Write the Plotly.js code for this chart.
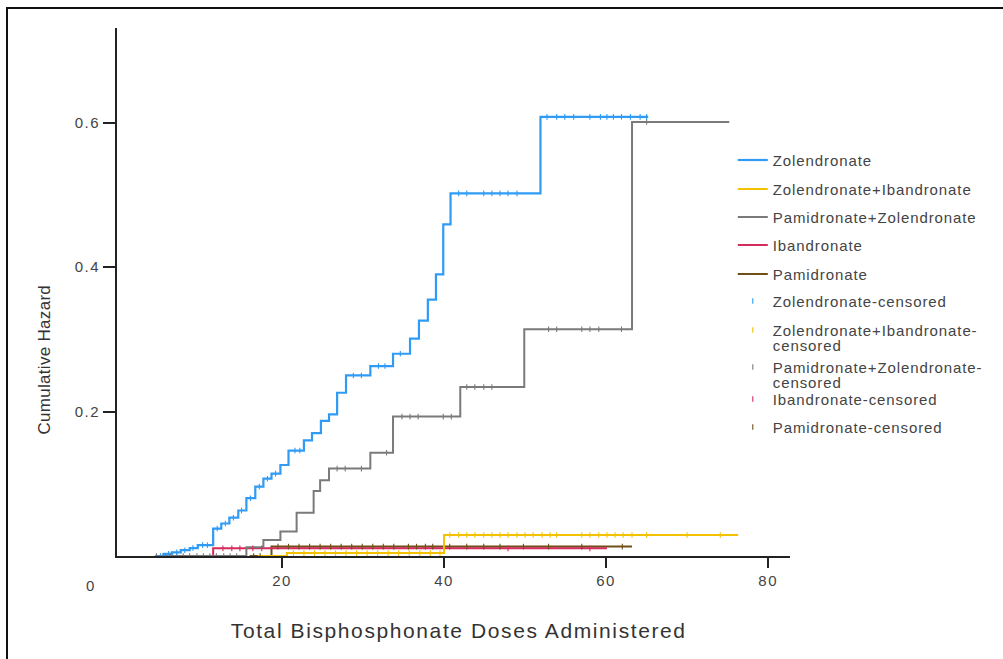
<!DOCTYPE html>
<html>
<head>
<meta charset="utf-8">
<script src="https://cdn.plot.ly/plotly-3.0.1.min.js"></script>
<style>
  html, body { margin: 0; padding: 0; background: #fff; }
  #wrap { position: relative; width: 1003px; height: 659px; overflow: hidden; }
  #frame { position: absolute; left: 6px; top: 7px; width: 1100px; height: 800px;
           border-left: 2px solid #111; border-top: 2px solid #111; pointer-events: none; z-index: 5; }
  #chart { position: absolute; left: 0; top: 0; width: 1003px; height: 659px; }
  #chart .legendtext { letter-spacing: 0.9px; }
  #chart .xtick text, #chart .ytick text { letter-spacing: 1.5px; }
  #chart .annotation-text.xt { letter-spacing: 1.6px; }
  #chart .annotation-text.yt { letter-spacing: 0.3px; }
</style>
</head>
<body>
<div id="wrap">
  <div id="chart"></div>
  <div id="frame"></div>
</div>
<script>
// ---- Data ----
const seriesNames = ["Zolendronate", "Zolendronate+Ibandronate", "Pamidronate+Zolendronate", "Ibandronate", "Pamidronate"];
const censoredNames = ["Zolendronate-censored", "Zolendronate+Ibandronate-<br>censored", "Pamidronate+Zolendronate-<br>censored", "Ibandronate-censored", "Pamidronate-censored"];

// Zolendronate step curve
const zolX = [4.3, 5.4, 6.4, 7.5, 8.6, 9.6, 11.5, 12.5, 13.5, 14.6, 15.6, 16.7, 17.7, 18.7, 19.8, 20.8, 22.7, 23.7, 24.8, 25.8, 26.8, 27.9, 30.9, 33.7, 35.8, 36.9, 38.0, 39.0, 39.9, 40.8, 51.9, 65.2];
const zolY = [0, 0.003, 0.005, 0.008, 0.011, 0.015, 0.038, 0.045, 0.053, 0.063, 0.080, 0.096, 0.107, 0.114, 0.126, 0.146, 0.160, 0.170, 0.187, 0.196, 0.226, 0.250, 0.263, 0.280, 0.301, 0.326, 0.355, 0.390, 0.459, 0.502, 0.608, 0.608];
const zolCensX = [5.0, 6.0, 7.0, 8.0, 9.0, 10.2, 10.8, 12.0, 13.0, 14.0, 15.0, 16.1, 17.2, 18.2, 19.2, 21.6, 22.2, 28.8, 29.8, 31.9, 32.7, 34.6, 41.8, 42.8, 44.9, 45.9, 46.9, 47.9, 49.0, 52.7, 53.9, 54.9, 56.0, 58.0, 59.3, 60.1, 60.9, 61.9, 63.0, 64.2, 65.0];

// Zolendronate+Ibandronate step curve
const zibX = [17.0, 20.6, 40.0, 76.3];
const zibY = [0, 0.004, 0.029, 0.029];
const zibCensX = [21.4, 22.7, 24.0, 25.3, 26.6, 27.9, 29.2, 30.5, 31.8, 33.1, 34.4, 35.7, 37.0, 38.3, 39.5, 40.7, 41.8, 42.8, 43.8, 44.9, 45.9, 46.9, 47.9, 49.0, 50.0, 51.0, 52.1, 53.1, 53.9, 57.0, 58.0, 59.1, 60.1, 61.1, 62.1, 63.2, 65.0, 70.0, 74.1];

// Pamidronate+Zolendronate step curve
const pzX = [4.5, 15.6, 17.7, 19.8, 21.8, 23.9, 24.7, 25.8, 30.9, 33.7, 42.0, 49.9, 63.2, 75.2];
const pzY = [0, 0.012, 0.022, 0.034, 0.060, 0.090, 0.105, 0.121, 0.143, 0.193, 0.234, 0.314, 0.601, 0.601];
const pzCensX = [4.5, 5.3, 6.2, 7.0, 7.8, 8.6, 9.5, 10.3, 11.1, 11.9, 12.8, 13.6, 14.4, 26.8, 27.8, 29.8, 32.9, 34.8, 35.8, 36.8, 39.9, 40.9, 42.8, 43.8, 44.9, 45.9, 52.9, 53.9, 57.0, 58.0, 59.1, 61.9, 65.0];

// Ibandronate step curve
const ibX = [9.0, 11.5, 60.1];
const ibY = [0, 0.0106, 0.0106];
const ibCensX = [12.7, 13.8, 14.8, 16.4, 17.5, 47.9, 58.0];

// Pamidronate step curve
const pamX = [16.0, 18.7, 63.2];
const pamY = [0, 0.013, 0.013];
const pamCensX = [16.5, 17.3, 19.5, 20.8, 22.1, 23.4, 24.7, 26.0, 27.3, 28.6, 29.9, 31.2, 32.5, 33.8, 35.6, 36.6, 37.7, 38.6, 40.7, 42.8, 44.9, 46.9, 49.8, 52.9, 57.0, 62.0];

// Axis ticks
const xTickVals = [20, 40, 60, 80];
const yTickVals = [0.2, 0.4, 0.6];

const colors = ["#2f9bf5", "#f2c200", "#7a7a7a", "#d42a5c", "#6e4f17"];

// ---- Build traces ----
function stepY(xs, ys, x) {
  let y = 0;
  for (let i = 0; i < xs.length; i++) { if (xs[i] <= x) y = ys[i]; }
  return y;
}
const curves = [[zolX, zolY, zolCensX], [zibX, zibY, zibCensX], [pzX, pzY, pzCensX], [ibX, ibY, ibCensX], [pamX, pamY, pamCensX]];
const drawOrder = [4, 3, 1, 2, 0];
const traces = [];
drawOrder.forEach(i => {
  const [xs, ys] = curves[i];
  traces.push({
    x: xs, y: ys, type: "scatter", mode: "lines", name: seriesNames[i],
    line: { shape: "hv", color: colors[i], width: i === 0 ? 2.2 : 2 },
    legendgroup: "c" + i, legendrank: i + 1, hoverinfo: "x+y"
  });
});
drawOrder.forEach(i => {
  const [xs, ys, cx] = curves[i];
  traces.push({
    x: cx, y: cx.map(v => stepY(xs, ys, v)), type: "scatter", mode: "markers", name: censoredNames[i],
    marker: { symbol: "line-ns", size: 4, color: colors[i], line: { color: colors[i], width: 1.1 } },
    legendgroup: "s" + i, legendrank: i + 6, hoverinfo: "x+y"
  });
});

// first-line centres of the legend entries in the reference (page px)
const legendRowY = [160, 189, 217, 245, 274, 301, 330, 367, 399, 427];

const layout = {
  width: 1003, height: 659,
  margin: { l: 117, r: 213, t: 28, b: 103 },
  paper_bgcolor: "#ffffff", plot_bgcolor: "#ffffff",
  font: { family: "Liberation Sans, Arial, sans-serif", color: "#444", size: 15 },
  showlegend: true,
  legend: {
    x: 0.915, y: 0.782, xanchor: "left", yanchor: "top",
    traceorder: "grouped", tracegroupgap: 5, itemwidth: 30,
    font: { size: 15, color: "#444" }, bgcolor: "rgba(0,0,0,0)"
  },
  xaxis: {
    range: [-0.37, 82.7], showgrid: false, zeroline: false,
    showline: true, linecolor: "#222", linewidth: 2,
    ticks: "outside", ticklen: 10, tickwidth: 2, tickcolor: "#222",
    tickvals: xTickVals, ticktext: xTickVals.map(String),
    tickfont: { size: 15, color: "#444" }
  },
  yaxis: {
    range: [0, 0.731], showgrid: false, zeroline: false,
    showline: true, linecolor: "#222", linewidth: 2,
    ticks: "outside", ticklen: 12, tickwidth: 2, tickcolor: "#222",
    tickvals: yTickVals, ticktext: yTickVals.map(v => v.toFixed(1)),
    tickfont: { size: 15, color: "#444" }
  },
  annotations: [
    { text: "0", xref: "paper", yref: "paper", x: (90 - 117) / 673, y: (556 - 585) / 528,
      xanchor: "center", yanchor: "middle", showarrow: false, font: { size: 15, color: "#444" } },
    { text: "Total Bisphosphonate Doses Administered", xref: "paper", yref: "paper",
      x: (458 - 117) / 673, y: (556 - 630) / 528, xanchor: "center", yanchor: "middle",
      showarrow: false, font: { size: 21, color: "#333" } },
    { text: "Cumulative Hazard", xref: "paper", yref: "paper", textangle: -90,
      x: (44 - 117) / 673, y: (556 - 360) / 528, xanchor: "center", yanchor: "middle",
      showarrow: false, font: { size: 17, color: "#333" } }
  ]
};

function centerY(el) { const r = el.getBoundingClientRect(); return r.top + r.height / 2; }

Plotly.newPlot("chart", traces, layout, { displayModeBar: false, staticPlot: true }).then(gd => {
  const anns = gd.querySelectorAll(".annotation-text");
  if (anns[1]) anns[1].classList.add("xt");
  if (anns[2]) anns[2].classList.add("yt");
  try {
    gd.querySelectorAll(".legend [clip-path]").forEach(e => e.removeAttribute("clip-path"));
    const items = Array.from(gd.querySelectorAll(".legend .traces"));
    items.sort((a, b) => a.getBoundingClientRect().top - b.getBoundingClientRect().top);
    let textOffset = null;
    items.forEach((it, k) => {
      const sym = it.querySelector(".legendpoints, .legendlines, .legendsymbols");
      const txt = it.querySelector(".legendtext");
      if (!sym || !txt || legendRowY[k] === undefined) return;
      const lines = txt.querySelectorAll("tspan.line");
      if (lines.length > 1) {
        lines.forEach((t, j) => { if (j > 0) t.setAttribute("dy", "1em"); });
      }
      const delta = legendRowY[k] - centerY(sym);
      const tr = it.getAttribute("transform") || "translate(0,0)";
      const m = tr.match(/translate\(\s*([-\d.e]+)[ ,]+([-\d.e]+)\s*\)/);
      const tx = m ? parseFloat(m[1]) : 0, ty = m ? parseFloat(m[2]) : 0;
      it.setAttribute("transform", "translate(" + tx + "," + (ty + delta) + ")");
      if (lines.length <= 1) {
        if (textOffset === null) textOffset = centerY(txt) - centerY(sym);
      } else if (textOffset !== null) {
        const first = lines[0];
        const want = centerY(sym) + textOffset;
        const d = want - centerY(first);
        txt.setAttribute("transform", "translate(0," + d + ")");
      }
    });
  } catch (e) { console.log(e); }
});
</script>
</body>
</html>
